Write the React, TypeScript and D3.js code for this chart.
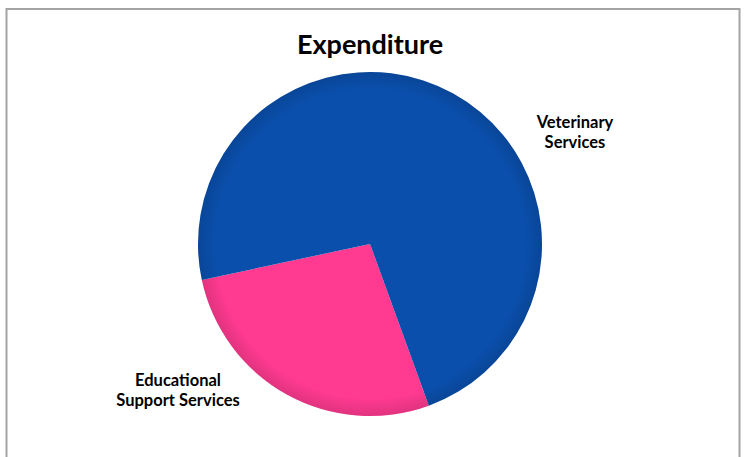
import { useEffect, useRef } from 'react';
import * as d3 from 'd3';

const categories = ['Educational Support Services', 'Veterinary Services'];
const values = [27.2, 72.8];
const colors = ['#ff3a90', '#0a4fac'];
const labelLines = [
  ['Educational', 'Support Services'],
  ['Veterinary', 'Services'],
];
const title = 'Expenditure';

const W = 745;
const H = 457;

export default function App() {
  const svgRef = useRef<SVGSVGElement>(null);

  useEffect(() => {
    if (!svgRef.current) return;
    const svg = d3.select(svgRef.current);
    svg.selectAll('*').remove();

    const font = 'Lato, "Open Sans", sans-serif';

    // outer frame (bottom edge runs past the window)
    svg.append('rect')
      .attr('x', 6.5)
      .attr('y', 9)
      .attr('width', 733)
      .attr('height', H + 10)
      .attr('fill', '#fff')
      .attr('stroke', '#a4a4a4')
      .attr('stroke-width', 2);

    svg.append('text')
      .attr('x', 370)
      .attr('y', 54)
      .attr('text-anchor', 'middle')
      .attr('font-family', font)
      .attr('font-weight', 'bold')
      .attr('font-size', 27)
      .attr('fill', '#000')
      .text(title);

    const cx = 370;
    const cy = 244;
    const radius = 172;

    const data = categories.map((c, i) => ({ name: c, value: values[i], i }));

    const pie = d3.pie<typeof data[number]>()
      .value(d => d.value)
      .sort(null)
      .startAngle((160 * Math.PI) / 180)
      .endAngle((160 * Math.PI) / 180 + 2 * Math.PI);

    const arc = d3.arc<d3.PieArcDatum<typeof data[number]>>()
      .innerRadius(0)
      .outerRadius(radius);

    const defs = svg.append('defs');
    // soft bevel shading near the rim
    const shade = defs.append('radialGradient')
      .attr('id', 'shade')
      .attr('gradientUnits', 'userSpaceOnUse')
      .attr('cx', cx)
      .attr('cy', cy)
      .attr('r', radius);
    shade.append('stop').attr('offset', '0.9').attr('stop-color', '#000').attr('stop-opacity', 0);
    shade.append('stop').attr('offset', '1').attr('stop-color', '#000').attr('stop-opacity', 0.12);

    const g = svg.append('g').attr('transform', `translate(${cx},${cy})`);

    g.selectAll('path.slice')
      .data(pie(data))
      .enter()
      .append('path')
      .attr('class', 'slice')
      .attr('d', d => arc(d))
      .attr('fill', d => colors[d.data.i]);

    svg.append('circle')
      .attr('cx', cx)
      .attr('cy', cy)
      .attr('r', radius)
      .attr('fill', 'url(#shade)');

    // labels outside the pie
    const labelPos = [
      [178, 386],
      [575, 128],
    ];
    data.forEach((d, i) => {
      const t = svg.append('text')
        .attr('x', labelPos[i][0])
        .attr('y', labelPos[i][1])
        .attr('text-anchor', 'middle')
        .attr('font-family', font)
        .attr('font-weight', 'bold')
        .attr('font-size', 16.5)
        .attr('fill', '#000');
      labelLines[d.i].forEach((line, k) => {
        t.append('tspan')
          .attr('x', labelPos[i][0])
          .attr('dy', k === 0 ? 0 : 20)
          .text(line);
      });
    });
  }, []);

  return (
    <div style={{ position: 'fixed', left: 0, top: 0, width: W, height: H, background: '#fff' }}>
      <svg ref={svgRef} width={W} height={H} style={{ display: 'block' }} />
    </div>
  );
}
